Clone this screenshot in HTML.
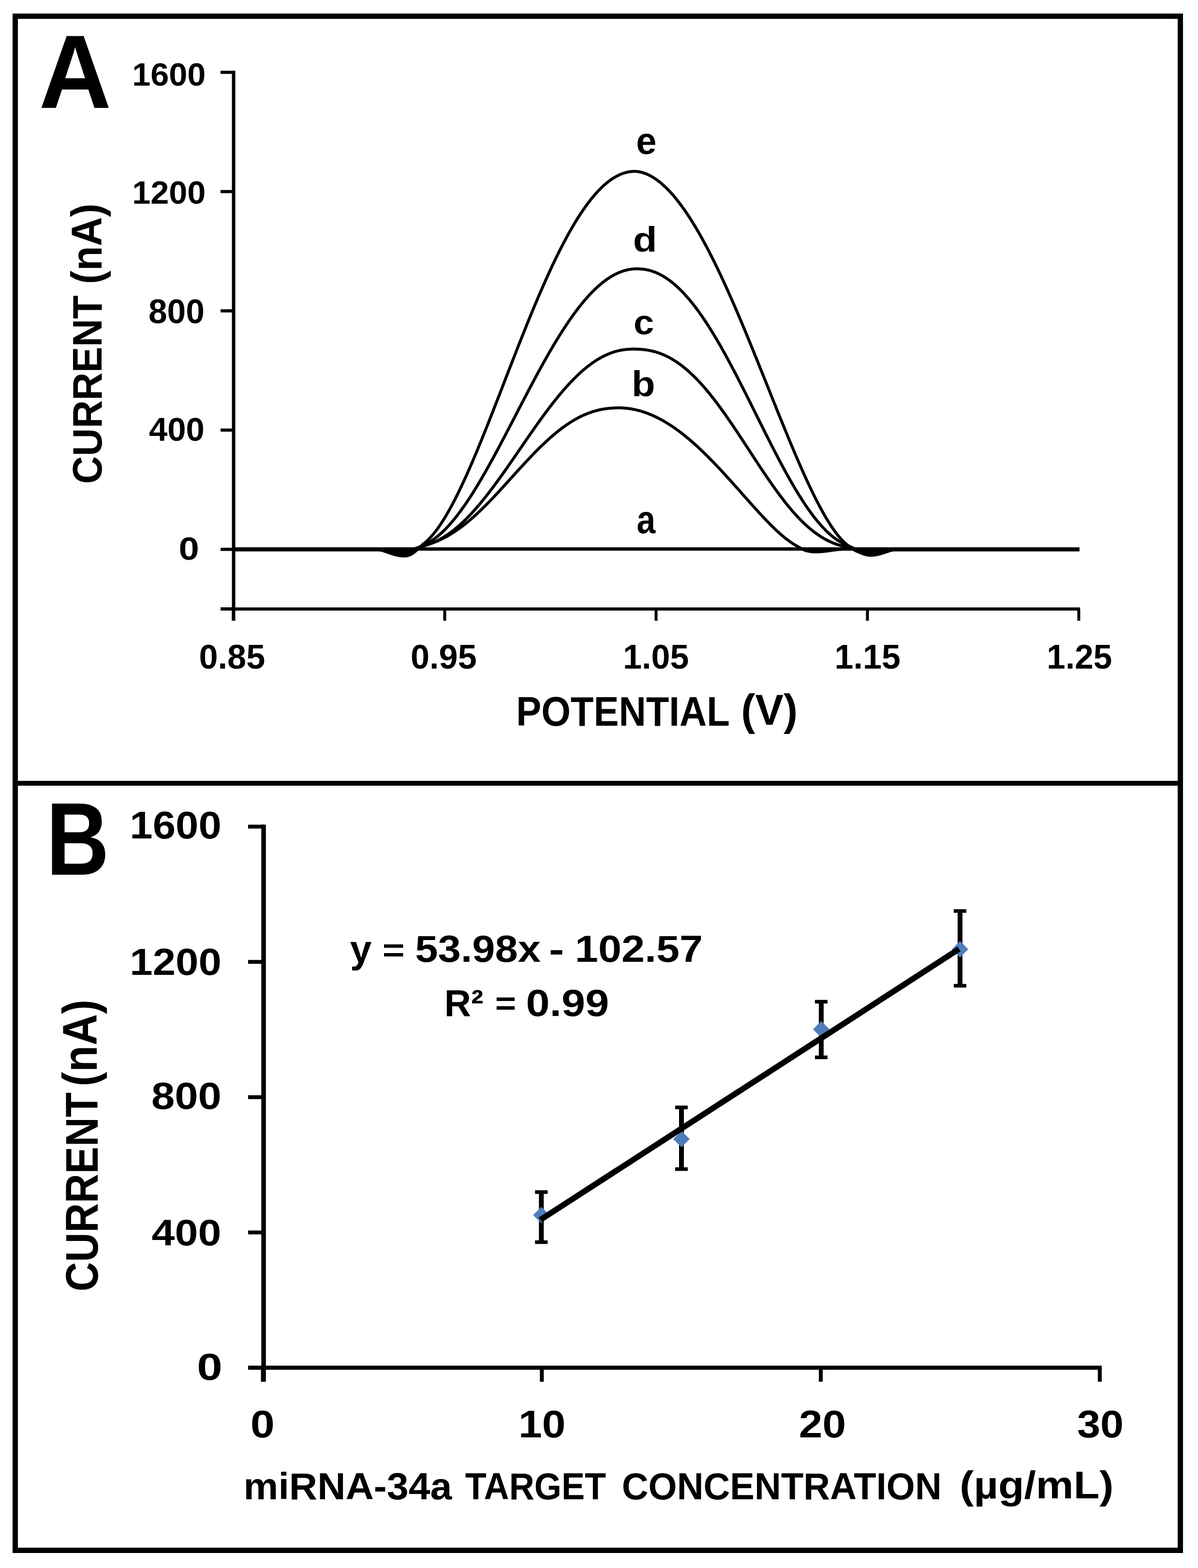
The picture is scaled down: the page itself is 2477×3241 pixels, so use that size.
<!DOCTYPE html>
<html><head><meta charset="utf-8"><title>Figure</title>
<style>html,body{margin:0;padding:0;background:#fff;}svg{display:block;}
text{font-family:'Liberation Sans', Arial, sans-serif;font-weight:bold;fill:#000;}</style></head>
<body><svg xmlns="http://www.w3.org/2000/svg" width="2477" height="3241" viewBox="0 0 2477 3241">
<rect width="2477" height="3241" fill="#fff"/>
<rect x="31.5" y="33.5" width="2409" height="3171" fill="none" stroke="#000" stroke-width="11"/>
<rect x="32" y="1614" width="2408" height="10" fill="#000"/>
<g stroke="#000" fill="none" stroke-linecap="butt">
<line x1="483.0" y1="146.0" x2="483.0" y2="1283" stroke-width="7"/>
<line x1="456" y1="149.5" x2="483.0" y2="149.5" stroke-width="6.5"/>
<line x1="456" y1="396.0" x2="483.0" y2="396.0" stroke-width="6.5"/>
<line x1="456" y1="642.5" x2="483.0" y2="642.5" stroke-width="6.5"/>
<line x1="456" y1="889.0" x2="483.0" y2="889.0" stroke-width="6.5"/>
<line x1="456" y1="1135.5" x2="483.0" y2="1135.5" stroke-width="6.5"/>
<line x1="456" y1="1258.8" x2="483.0" y2="1258.8" stroke-width="6.5"/>
<line x1="456" y1="1258.8" x2="2233" y2="1258.8" stroke-width="6.5"/>
<line x1="482.5" y1="1258.8" x2="482.5" y2="1283" stroke-width="6"/>
<line x1="919.5" y1="1258.8" x2="919.5" y2="1283" stroke-width="6"/>
<line x1="1356.5" y1="1258.8" x2="1356.5" y2="1283" stroke-width="6"/>
<line x1="1793.5" y1="1258.8" x2="1793.5" y2="1283" stroke-width="6"/>
<line x1="2230.5" y1="1258.8" x2="2230.5" y2="1283" stroke-width="6"/>
</g>
<g stroke="#000" stroke-width="6" fill="none" stroke-linejoin="round">
<line x1="483.0" y1="1134.8" x2="2232" y2="1134.8" stroke-width="7"/>
<line x1="483.0" y1="1136.8" x2="820" y2="1136.8" stroke-width="6"/>
<line x1="1815" y1="1136.8" x2="2232" y2="1136.8" stroke-width="6"/>
<path d="M778.0,1135.0 L780.0,1135.1 L782.0,1135.3 L784.0,1135.4 L786.0,1135.6 L788.0,1135.8 L790.0,1136.1 L792.0,1136.3 L794.0,1136.6 L796.0,1136.8 L798.0,1137.1 L800.0,1137.4 L802.0,1137.6 L804.0,1137.9 L806.0,1138.2 L808.0,1138.4 L810.0,1138.7 L812.0,1138.9 L814.0,1139.1 L816.0,1139.3 L818.0,1139.5 L820.0,1139.7 L822.0,1139.8 L824.0,1139.9 L826.0,1140.0 L828.0,1140.0 L830.0,1140.0 L832.0,1139.9 L834.0,1139.9 L836.0,1139.7 L838.0,1139.6 L840.0,1139.3 L842.0,1139.0 L844.0,1138.6 L846.0,1138.1 L848.0,1137.5 L850.0,1136.9 L852.0,1136.3 L854.0,1135.6 L856.0,1134.9 L858.0,1134.1 L860.0,1133.3 L862.0,1132.6 L864.0,1131.8 L866.0,1131.1 L868.0,1130.3 L870.0,1129.6 L872.0,1129.0 L874.0,1128.3 L876.0,1127.8 L878.0,1127.2 L880.0,1126.7 L882.0,1126.1 L884.0,1125.5 L886.0,1124.9 L888.0,1124.3 L890.0,1123.7 L892.0,1123.0 L894.0,1122.3 L896.0,1121.6 L898.0,1120.8 L900.0,1120.0 L902.0,1119.2 L904.0,1118.4 L906.0,1117.5 L908.0,1116.7 L910.0,1115.8 L912.0,1114.8 L914.0,1113.9 L916.0,1112.9 L918.0,1111.9 L920.0,1110.8 L922.0,1109.7 L924.0,1108.7 L926.0,1107.5 L928.0,1106.4 L930.0,1105.2 L932.0,1104.0 L934.0,1102.8 L936.0,1101.5 L938.0,1100.2 L940.0,1098.9 L942.0,1097.6 L944.0,1096.2 L946.0,1094.9 L948.0,1093.4 L950.0,1092.0 L952.0,1090.5 L954.0,1089.1 L956.0,1087.5 L958.0,1086.0 L960.0,1084.5 L962.0,1082.9 L964.0,1081.3 L966.0,1079.6 L968.0,1078.0 L970.0,1076.3 L972.0,1074.6 L974.0,1072.9 L976.0,1071.1 L978.0,1069.4 L980.0,1067.6 L982.0,1065.8 L984.0,1064.0 L986.0,1062.1 L988.0,1060.3 L990.0,1058.4 L992.0,1056.5 L994.0,1054.6 L996.0,1052.6 L998.0,1050.7 L1000.0,1048.7 L1002.0,1046.7 L1004.0,1044.7 L1006.0,1042.7 L1008.0,1040.7 L1010.0,1038.6 L1012.0,1036.6 L1014.0,1034.5 L1016.0,1032.4 L1018.0,1030.3 L1020.0,1028.2 L1022.0,1026.1 L1024.0,1024.0 L1026.0,1021.9 L1028.0,1019.7 L1030.0,1017.6 L1032.0,1015.4 L1034.0,1013.2 L1036.0,1011.1 L1038.0,1008.9 L1040.0,1006.7 L1042.0,1004.5 L1044.0,1002.3 L1046.0,1000.1 L1048.0,997.9 L1050.0,995.7 L1052.0,993.5 L1054.0,991.3 L1056.0,989.1 L1058.0,986.9 L1060.0,984.7 L1062.0,982.5 L1064.0,980.2 L1066.0,978.0 L1068.0,975.8 L1070.0,973.6 L1072.0,971.4 L1074.0,969.2 L1076.0,967.1 L1078.0,964.9 L1080.0,962.7 L1082.0,960.5 L1084.0,958.4 L1086.0,956.2 L1088.0,954.1 L1090.0,951.9 L1092.0,949.8 L1094.0,947.7 L1096.0,945.6 L1098.0,943.5 L1100.0,941.4 L1102.0,939.3 L1104.0,937.3 L1106.0,935.2 L1108.0,933.2 L1110.0,931.2 L1112.0,929.2 L1114.0,927.2 L1116.0,925.2 L1118.0,923.2 L1120.0,921.3 L1122.0,919.4 L1124.0,917.5 L1126.0,915.6 L1128.0,913.7 L1130.0,911.8 L1132.0,910.0 L1134.0,908.2 L1136.0,906.4 L1138.0,904.6 L1140.0,902.9 L1142.0,901.1 L1144.0,899.4 L1146.0,897.7 L1148.0,896.0 L1150.0,894.4 L1152.0,892.8 L1154.0,891.2 L1156.0,889.6 L1158.0,888.0 L1160.0,886.5 L1162.0,885.0 L1164.0,883.5 L1166.0,882.1 L1168.0,880.6 L1170.0,879.2 L1172.0,877.8 L1174.0,876.5 L1176.0,875.2 L1178.0,873.9 L1180.0,872.6 L1182.0,871.3 L1184.0,870.1 L1186.0,868.9 L1188.0,867.7 L1190.0,866.6 L1192.0,865.5 L1194.0,864.4 L1196.0,863.3 L1198.0,862.3 L1200.0,861.3 L1202.0,860.3 L1204.0,859.4 L1206.0,858.4 L1208.0,857.6 L1210.0,856.7 L1212.0,855.9 L1214.0,855.0 L1216.0,854.3 L1218.0,853.5 L1220.0,852.8 L1222.0,852.1 L1224.0,851.4 L1226.0,850.8 L1228.0,850.2 L1230.0,849.6 L1232.0,849.0 L1234.0,848.5 L1236.0,848.0 L1238.0,847.5 L1240.0,847.0 L1242.0,846.6 L1244.0,846.2 L1246.0,845.8 L1248.0,845.5 L1250.0,845.2 L1252.0,844.9 L1254.0,844.6 L1256.0,844.4 L1258.0,844.1 L1260.0,843.9 L1262.0,843.8 L1264.0,843.6 L1266.0,843.5 L1268.0,843.4 L1270.0,843.3 L1272.0,843.2 L1274.0,843.1 L1276.0,843.1 L1278.0,843.1 L1280.0,843.1 L1282.0,843.1 L1284.0,843.1 L1286.0,843.2 L1288.0,843.3 L1290.0,843.4 L1292.0,843.6 L1294.0,843.8 L1296.0,844.0 L1298.0,844.2 L1300.0,844.4 L1302.0,844.7 L1304.0,845.0 L1306.0,845.3 L1308.0,845.7 L1310.0,846.1 L1312.0,846.5 L1314.0,846.9 L1316.0,847.4 L1318.0,847.9 L1320.0,848.4 L1322.0,848.9 L1324.0,849.4 L1326.0,850.0 L1328.0,850.6 L1330.0,851.3 L1332.0,851.9 L1334.0,852.6 L1336.0,853.3 L1338.0,854.1 L1340.0,854.8 L1342.0,855.6 L1344.0,856.4 L1346.0,857.2 L1348.0,858.1 L1350.0,859.0 L1352.0,859.9 L1354.0,860.8 L1356.0,861.7 L1358.0,862.7 L1360.0,863.7 L1362.0,864.7 L1364.0,865.8 L1366.0,866.8 L1368.0,867.9 L1370.0,869.0 L1372.0,870.2 L1374.0,871.3 L1376.0,872.5 L1378.0,873.7 L1380.0,875.0 L1382.0,876.2 L1384.0,877.5 L1386.0,878.8 L1388.0,880.1 L1390.0,881.4 L1392.0,882.8 L1394.0,884.1 L1396.0,885.5 L1398.0,887.0 L1400.0,888.4 L1402.0,889.9 L1404.0,891.3 L1406.0,892.8 L1408.0,894.4 L1410.0,895.9 L1412.0,897.5 L1414.0,899.0 L1416.0,900.6 L1418.0,902.3 L1420.0,903.9 L1422.0,905.6 L1424.0,907.2 L1426.0,908.9 L1428.0,910.6 L1430.0,912.4 L1432.0,914.1 L1434.0,915.9 L1436.0,917.7 L1438.0,919.5 L1440.0,921.3 L1442.0,923.1 L1444.0,924.9 L1446.0,926.8 L1448.0,928.7 L1450.0,930.6 L1452.0,932.5 L1454.0,934.4 L1456.0,936.3 L1458.0,938.3 L1460.0,940.3 L1462.0,942.2 L1464.0,944.2 L1466.0,946.2 L1468.0,948.3 L1470.0,950.3 L1472.0,952.3 L1474.0,954.4 L1476.0,956.5 L1478.0,958.6 L1480.0,960.6 L1482.0,962.7 L1484.0,964.9 L1486.0,967.0 L1488.0,969.1 L1490.0,971.3 L1492.0,973.4 L1494.0,975.6 L1496.0,977.7 L1498.0,979.9 L1500.0,982.1 L1502.0,984.3 L1504.0,986.5 L1506.0,988.7 L1508.0,990.9 L1510.0,993.1 L1512.0,995.4 L1514.0,997.6 L1516.0,999.8 L1518.0,1002.1 L1520.0,1004.3 L1522.0,1006.5 L1524.0,1008.8 L1526.0,1011.0 L1528.0,1013.3 L1530.0,1015.5 L1532.0,1017.8 L1534.0,1020.1 L1536.0,1022.3 L1538.0,1024.6 L1540.0,1026.8 L1542.0,1029.1 L1544.0,1031.3 L1546.0,1033.6 L1548.0,1035.8 L1550.0,1038.1 L1552.0,1040.3 L1554.0,1042.5 L1556.0,1044.8 L1558.0,1047.0 L1560.0,1049.2 L1562.0,1051.4 L1564.0,1053.6 L1566.0,1055.8 L1568.0,1058.0 L1570.0,1060.2 L1572.0,1062.3 L1574.0,1064.5 L1576.0,1066.6 L1578.0,1068.8 L1580.0,1070.9 L1582.0,1073.0 L1584.0,1075.1 L1586.0,1077.2 L1588.0,1079.2 L1590.0,1081.3 L1592.0,1083.3 L1594.0,1085.3 L1596.0,1087.3 L1598.0,1089.3 L1600.0,1091.2 L1602.0,1093.2 L1604.0,1095.1 L1606.0,1096.9 L1608.0,1098.8 L1610.0,1100.6 L1612.0,1102.4 L1614.0,1104.2 L1616.0,1105.9 L1618.0,1107.7 L1620.0,1109.3 L1622.0,1111.0 L1624.0,1112.6 L1626.0,1114.2 L1628.0,1115.7 L1630.0,1117.2 L1632.0,1118.7 L1634.0,1120.1 L1636.0,1121.5 L1638.0,1122.8 L1640.0,1124.1 L1642.0,1125.3 L1644.0,1126.5 L1646.0,1127.6 L1648.0,1128.8 L1650.0,1129.9 L1652.0,1131.1 L1654.0,1132.2 L1656.0,1133.3 L1658.0,1134.4 L1660.0,1135.4 L1662.0,1136.4 L1664.0,1137.3 L1666.0,1138.0 L1668.0,1138.5 L1670.0,1138.9 L1672.0,1139.4 L1674.0,1139.7 L1676.0,1140.1 L1678.0,1140.4 L1680.0,1140.6 L1682.0,1140.7 L1684.0,1140.8 L1686.0,1140.8 L1688.0,1140.8 L1690.0,1140.7 L1692.0,1140.6 L1694.0,1140.5 L1696.0,1140.4 L1698.0,1140.3 L1700.0,1140.1 L1702.0,1139.9 L1704.0,1139.7 L1706.0,1139.5 L1708.0,1139.2 L1710.0,1139.0 L1712.0,1138.7 L1714.0,1138.4 L1716.0,1138.2 L1718.0,1137.9 L1720.0,1137.6 L1722.0,1137.3 L1724.0,1137.0 L1726.0,1136.8 L1728.0,1136.5 L1730.0,1136.3 L1732.0,1136.0 L1734.0,1135.8 L1736.0,1135.6 L1738.0,1135.4 L1740.0,1135.3 L1742.0,1135.1 L1744.0,1135.0"/>
<path d="M778.0,1135.0 L780.0,1135.2 L782.0,1135.3 L784.0,1135.5 L786.0,1135.7 L788.0,1135.9 L790.0,1136.2 L792.0,1136.4 L794.0,1136.7 L796.0,1137.0 L798.0,1137.3 L800.0,1137.6 L802.0,1137.9 L804.0,1138.2 L806.0,1138.5 L808.0,1138.8 L810.0,1139.1 L812.0,1139.4 L814.0,1139.7 L816.0,1139.9 L818.0,1140.2 L820.0,1140.4 L822.0,1140.6 L824.0,1140.7 L826.0,1140.8 L828.0,1140.9 L830.0,1141.0 L832.0,1141.0 L834.0,1141.0 L836.0,1140.9 L838.0,1140.7 L840.0,1140.5 L842.0,1140.2 L844.0,1139.8 L846.0,1139.3 L848.0,1138.8 L850.0,1138.2 L852.0,1137.5 L854.0,1136.8 L856.0,1136.0 L858.0,1135.3 L860.0,1134.5 L862.0,1133.6 L864.0,1132.8 L866.0,1132.0 L868.0,1131.3 L870.0,1130.5 L872.0,1129.8 L874.0,1129.1 L876.0,1128.5 L878.0,1127.9 L880.0,1127.3 L882.0,1126.6 L884.0,1126.0 L886.0,1125.3 L888.0,1124.6 L890.0,1123.8 L892.0,1123.0 L894.0,1122.2 L896.0,1121.4 L898.0,1120.5 L900.0,1119.6 L902.0,1118.6 L904.0,1117.7 L906.0,1116.7 L908.0,1115.6 L910.0,1114.5 L912.0,1113.4 L914.0,1112.3 L916.0,1111.1 L918.0,1109.9 L920.0,1108.6 L922.0,1107.3 L924.0,1106.0 L926.0,1104.6 L928.0,1103.2 L930.0,1101.8 L932.0,1100.4 L934.0,1098.9 L936.0,1097.3 L938.0,1095.8 L940.0,1094.2 L942.0,1092.6 L944.0,1090.9 L946.0,1089.2 L948.0,1087.5 L950.0,1085.7 L952.0,1083.9 L954.0,1082.1 L956.0,1080.2 L958.0,1078.4 L960.0,1076.4 L962.0,1074.5 L964.0,1072.5 L966.0,1070.5 L968.0,1068.5 L970.0,1066.4 L972.0,1064.3 L974.0,1062.2 L976.0,1060.0 L978.0,1057.8 L980.0,1055.6 L982.0,1053.4 L984.0,1051.1 L986.0,1048.8 L988.0,1046.5 L990.0,1044.1 L992.0,1041.7 L994.0,1039.4 L996.0,1036.9 L998.0,1034.5 L1000.0,1032.0 L1002.0,1029.5 L1004.0,1027.0 L1006.0,1024.5 L1008.0,1021.9 L1010.0,1019.4 L1012.0,1016.8 L1014.0,1014.2 L1016.0,1011.5 L1018.0,1008.9 L1020.0,1006.2 L1022.0,1003.5 L1024.0,1000.8 L1026.0,998.1 L1028.0,995.4 L1030.0,992.6 L1032.0,989.9 L1034.0,987.1 L1036.0,984.3 L1038.0,981.5 L1040.0,978.7 L1042.0,975.9 L1044.0,973.1 L1046.0,970.2 L1048.0,967.4 L1050.0,964.5 L1052.0,961.6 L1054.0,958.8 L1056.0,955.9 L1058.0,953.0 L1060.0,950.1 L1062.0,947.2 L1064.0,944.3 L1066.0,941.4 L1068.0,938.5 L1070.0,935.6 L1072.0,932.7 L1074.0,929.8 L1076.0,926.9 L1078.0,924.0 L1080.0,921.0 L1082.0,918.1 L1084.0,915.2 L1086.0,912.3 L1088.0,909.4 L1090.0,906.5 L1092.0,903.6 L1094.0,900.8 L1096.0,897.9 L1098.0,895.0 L1100.0,892.1 L1102.0,889.3 L1104.0,886.4 L1106.0,883.6 L1108.0,880.8 L1110.0,877.9 L1112.0,875.1 L1114.0,872.3 L1116.0,869.6 L1118.0,866.8 L1120.0,864.0 L1122.0,861.3 L1124.0,858.5 L1126.0,855.8 L1128.0,853.1 L1130.0,850.4 L1132.0,847.8 L1134.0,845.1 L1136.0,842.5 L1138.0,839.9 L1140.0,837.3 L1142.0,834.7 L1144.0,832.1 L1146.0,829.6 L1148.0,827.1 L1150.0,824.6 L1152.0,822.1 L1154.0,819.7 L1156.0,817.2 L1158.0,814.8 L1160.0,812.4 L1162.0,810.1 L1164.0,807.7 L1166.0,805.4 L1168.0,803.1 L1170.0,800.9 L1172.0,798.6 L1174.0,796.4 L1176.0,794.3 L1178.0,792.1 L1180.0,790.0 L1182.0,787.9 L1184.0,785.8 L1186.0,783.8 L1188.0,781.7 L1190.0,779.8 L1192.0,777.8 L1194.0,775.9 L1196.0,774.0 L1198.0,772.1 L1200.0,770.3 L1202.0,768.5 L1204.0,766.7 L1206.0,765.0 L1208.0,763.3 L1210.0,761.6 L1212.0,760.0 L1214.0,758.4 L1216.0,756.8 L1218.0,755.3 L1220.0,753.8 L1222.0,752.3 L1224.0,750.8 L1226.0,749.4 L1228.0,748.1 L1230.0,746.7 L1232.0,745.4 L1234.0,744.1 L1236.0,742.9 L1238.0,741.7 L1240.0,740.6 L1242.0,739.4 L1244.0,738.3 L1246.0,737.3 L1248.0,736.2 L1250.0,735.3 L1252.0,734.3 L1254.0,733.4 L1256.0,732.5 L1258.0,731.7 L1260.0,730.8 L1262.0,730.1 L1264.0,729.3 L1266.0,728.6 L1268.0,728.0 L1270.0,727.3 L1272.0,726.7 L1274.0,726.2 L1276.0,725.6 L1278.0,725.1 L1280.0,724.7 L1282.0,724.2 L1284.0,723.8 L1286.0,723.5 L1288.0,723.2 L1290.0,722.9 L1292.0,722.6 L1294.0,722.4 L1296.0,722.2 L1298.0,722.0 L1300.0,721.9 L1302.0,721.8 L1304.0,721.7 L1306.0,721.6 L1308.0,721.6 L1310.0,721.6 L1312.0,721.6 L1314.0,721.6 L1316.0,721.7 L1318.0,721.7 L1320.0,721.8 L1322.0,721.9 L1324.0,722.0 L1326.0,722.2 L1328.0,722.3 L1330.0,722.5 L1332.0,722.8 L1334.0,723.0 L1336.0,723.3 L1338.0,723.6 L1340.0,723.9 L1342.0,724.3 L1344.0,724.6 L1346.0,725.1 L1348.0,725.5 L1350.0,726.0 L1352.0,726.5 L1354.0,727.0 L1356.0,727.6 L1358.0,728.2 L1360.0,728.9 L1362.0,729.5 L1364.0,730.2 L1366.0,731.0 L1368.0,731.8 L1370.0,732.6 L1372.0,733.4 L1374.0,734.3 L1376.0,735.2 L1378.0,736.1 L1380.0,737.1 L1382.0,738.1 L1384.0,739.2 L1386.0,740.3 L1388.0,741.4 L1390.0,742.6 L1392.0,743.8 L1394.0,745.0 L1396.0,746.3 L1398.0,747.6 L1400.0,748.9 L1402.0,750.3 L1404.0,751.7 L1406.0,753.1 L1408.0,754.6 L1410.0,756.1 L1412.0,757.7 L1414.0,759.3 L1416.0,760.9 L1418.0,762.6 L1420.0,764.3 L1422.0,766.0 L1424.0,767.8 L1426.0,769.6 L1428.0,771.4 L1430.0,773.3 L1432.0,775.2 L1434.0,777.1 L1436.0,779.1 L1438.0,781.1 L1440.0,783.1 L1442.0,785.2 L1444.0,787.3 L1446.0,789.4 L1448.0,791.6 L1450.0,793.8 L1452.0,796.0 L1454.0,798.3 L1456.0,800.6 L1458.0,802.9 L1460.0,805.2 L1462.0,807.6 L1464.0,810.0 L1466.0,812.4 L1468.0,814.9 L1470.0,817.4 L1472.0,819.9 L1474.0,822.4 L1476.0,825.0 L1478.0,827.6 L1480.0,830.2 L1482.0,832.8 L1484.0,835.5 L1486.0,838.2 L1488.0,840.9 L1490.0,843.6 L1492.0,846.4 L1494.0,849.2 L1496.0,851.9 L1498.0,854.8 L1500.0,857.6 L1502.0,860.4 L1504.0,863.3 L1506.0,866.2 L1508.0,869.1 L1510.0,872.0 L1512.0,874.9 L1514.0,877.8 L1516.0,880.8 L1518.0,883.8 L1520.0,886.7 L1522.0,889.7 L1524.0,892.7 L1526.0,895.7 L1528.0,898.8 L1530.0,901.8 L1532.0,904.8 L1534.0,907.9 L1536.0,910.9 L1538.0,913.9 L1540.0,917.0 L1542.0,920.1 L1544.0,923.1 L1546.0,926.2 L1548.0,929.2 L1550.0,932.3 L1552.0,935.4 L1554.0,938.4 L1556.0,941.5 L1558.0,944.6 L1560.0,947.6 L1562.0,950.7 L1564.0,953.7 L1566.0,956.7 L1568.0,959.8 L1570.0,962.8 L1572.0,965.8 L1574.0,968.8 L1576.0,971.8 L1578.0,974.8 L1580.0,977.8 L1582.0,980.7 L1584.0,983.7 L1586.0,986.6 L1588.0,989.5 L1590.0,992.5 L1592.0,995.3 L1594.0,998.2 L1596.0,1001.1 L1598.0,1003.9 L1600.0,1006.7 L1602.0,1009.5 L1604.0,1012.3 L1606.0,1015.1 L1608.0,1017.8 L1610.0,1020.5 L1612.0,1023.2 L1614.0,1025.9 L1616.0,1028.5 L1618.0,1031.1 L1620.0,1033.7 L1622.0,1036.3 L1624.0,1038.8 L1626.0,1041.3 L1628.0,1043.8 L1630.0,1046.3 L1632.0,1048.7 L1634.0,1051.1 L1636.0,1053.4 L1638.0,1055.8 L1640.0,1058.1 L1642.0,1060.4 L1644.0,1062.6 L1646.0,1064.8 L1648.0,1067.0 L1650.0,1069.1 L1652.0,1071.2 L1654.0,1073.3 L1656.0,1075.3 L1658.0,1077.3 L1660.0,1079.3 L1662.0,1081.2 L1664.0,1083.1 L1666.0,1085.0 L1668.0,1086.8 L1670.0,1088.6 L1672.0,1090.3 L1674.0,1092.0 L1676.0,1093.7 L1678.0,1095.4 L1680.0,1097.0 L1682.0,1098.5 L1684.0,1100.1 L1686.0,1101.5 L1688.0,1103.0 L1690.0,1104.4 L1692.0,1105.8 L1694.0,1107.1 L1696.0,1108.4 L1698.0,1109.7 L1700.0,1110.9 L1702.0,1112.1 L1704.0,1113.3 L1706.0,1114.4 L1708.0,1115.5 L1710.0,1116.5 L1712.0,1117.5 L1714.0,1118.5 L1716.0,1119.4 L1718.0,1120.3 L1720.0,1121.2 L1722.0,1122.1 L1724.0,1122.9 L1726.0,1123.6 L1728.0,1124.4 L1730.0,1125.1 L1732.0,1125.8 L1734.0,1126.4 L1736.0,1127.0 L1738.0,1127.6 L1740.0,1128.1 L1742.0,1128.7 L1744.0,1129.2 L1746.0,1129.6 L1748.0,1130.1 L1750.0,1130.5 L1752.0,1130.9 L1754.0,1131.3 L1756.0,1131.7 L1758.0,1132.1 L1760.0,1132.6 L1762.0,1133.1 L1764.0,1133.6 L1766.0,1134.2 L1768.0,1134.7 L1770.0,1135.2 L1772.0,1135.8 L1774.0,1136.3 L1776.0,1136.9 L1778.0,1137.4 L1780.0,1137.9 L1782.0,1138.4 L1784.0,1138.8 L1786.0,1139.2 L1788.0,1139.6 L1790.0,1139.9 L1792.0,1140.2 L1794.0,1140.4 L1796.0,1140.6 L1798.0,1140.7 L1800.0,1140.7 L1802.0,1140.7 L1804.0,1140.7 L1806.0,1140.6 L1808.0,1140.5 L1810.0,1140.4 L1812.0,1140.3 L1814.0,1140.1 L1816.0,1139.9 L1818.0,1139.6 L1820.0,1139.4 L1822.0,1139.1 L1824.0,1138.8 L1826.0,1138.6 L1828.0,1138.3 L1830.0,1138.0 L1832.0,1137.6 L1834.0,1137.3 L1836.0,1137.0 L1838.0,1136.8 L1840.0,1136.5 L1842.0,1136.2 L1844.0,1136.0 L1846.0,1135.7 L1848.0,1135.5 L1850.0,1135.3 L1852.0,1135.2 L1854.0,1135.0"/>
<path d="M776.0,1135.0 L778.0,1135.2 L780.0,1135.4 L782.0,1135.6 L784.0,1135.9 L786.0,1136.3 L788.0,1136.6 L790.0,1137.0 L792.0,1137.4 L794.0,1137.9 L796.0,1138.3 L798.0,1138.8 L800.0,1139.3 L802.0,1139.8 L804.0,1140.3 L806.0,1140.8 L808.0,1141.3 L810.0,1141.8 L812.0,1142.2 L814.0,1142.7 L816.0,1143.1 L818.0,1143.5 L820.0,1143.8 L822.0,1144.2 L824.0,1144.5 L826.0,1144.7 L828.0,1144.9 L830.0,1145.1 L832.0,1145.2 L834.0,1145.3 L836.0,1145.3 L838.0,1145.2 L840.0,1145.0 L842.0,1144.6 L844.0,1144.1 L846.0,1143.5 L848.0,1142.7 L850.0,1141.8 L852.0,1140.8 L854.0,1139.7 L856.0,1138.6 L858.0,1137.4 L860.0,1136.2 L862.0,1134.9 L864.0,1133.6 L866.0,1132.4 L868.0,1131.1 L870.0,1129.9 L872.0,1128.8 L874.0,1127.7 L876.0,1126.7 L878.0,1125.7 L880.0,1124.7 L882.0,1123.7 L884.0,1122.6 L886.0,1121.5 L888.0,1120.3 L890.0,1119.1 L892.0,1117.8 L894.0,1116.5 L896.0,1115.1 L898.0,1113.7 L900.0,1112.2 L902.0,1110.7 L904.0,1109.1 L906.0,1107.4 L908.0,1105.8 L910.0,1104.0 L912.0,1102.2 L914.0,1100.4 L916.0,1098.5 L918.0,1096.6 L920.0,1094.6 L922.0,1092.6 L924.0,1090.5 L926.0,1088.3 L928.0,1086.2 L930.0,1084.0 L932.0,1081.7 L934.0,1079.4 L936.0,1077.0 L938.0,1074.6 L940.0,1072.2 L942.0,1069.7 L944.0,1067.2 L946.0,1064.6 L948.0,1062.0 L950.0,1059.3 L952.0,1056.6 L954.0,1053.9 L956.0,1051.1 L958.0,1048.3 L960.0,1045.5 L962.0,1042.6 L964.0,1039.7 L966.0,1036.7 L968.0,1033.7 L970.0,1030.7 L972.0,1027.6 L974.0,1024.6 L976.0,1021.4 L978.0,1018.3 L980.0,1015.1 L982.0,1011.9 L984.0,1008.6 L986.0,1005.3 L988.0,1002.0 L990.0,998.7 L992.0,995.3 L994.0,992.0 L996.0,988.5 L998.0,985.1 L1000.0,981.6 L1002.0,978.2 L1004.0,974.6 L1006.0,971.1 L1008.0,967.6 L1010.0,964.0 L1012.0,960.4 L1014.0,956.8 L1016.0,953.2 L1018.0,949.5 L1020.0,945.9 L1022.0,942.2 L1024.0,938.5 L1026.0,934.8 L1028.0,931.0 L1030.0,927.3 L1032.0,923.6 L1034.0,919.8 L1036.0,916.0 L1038.0,912.2 L1040.0,908.4 L1042.0,904.6 L1044.0,900.8 L1046.0,897.0 L1048.0,893.2 L1050.0,889.4 L1052.0,885.5 L1054.0,881.7 L1056.0,877.8 L1058.0,874.0 L1060.0,870.1 L1062.0,866.3 L1064.0,862.4 L1066.0,858.6 L1068.0,854.7 L1070.0,850.8 L1072.0,847.0 L1074.0,843.1 L1076.0,839.3 L1078.0,835.4 L1080.0,831.6 L1082.0,827.8 L1084.0,823.9 L1086.0,820.1 L1088.0,816.3 L1090.0,812.5 L1092.0,808.7 L1094.0,804.9 L1096.0,801.1 L1098.0,797.3 L1100.0,793.6 L1102.0,789.8 L1104.0,786.1 L1106.0,782.3 L1108.0,778.6 L1110.0,774.9 L1112.0,771.2 L1114.0,767.5 L1116.0,763.9 L1118.0,760.2 L1120.0,756.6 L1122.0,753.0 L1124.0,749.4 L1126.0,745.8 L1128.0,742.3 L1130.0,738.8 L1132.0,735.3 L1134.0,731.8 L1136.0,728.3 L1138.0,724.8 L1140.0,721.4 L1142.0,718.0 L1144.0,714.6 L1146.0,711.3 L1148.0,707.9 L1150.0,704.6 L1152.0,701.4 L1154.0,698.1 L1156.0,694.9 L1158.0,691.7 L1160.0,688.5 L1162.0,685.3 L1164.0,682.2 L1166.0,679.1 L1168.0,676.1 L1170.0,673.1 L1172.0,670.1 L1174.0,667.1 L1176.0,664.2 L1178.0,661.2 L1180.0,658.4 L1182.0,655.5 L1184.0,652.7 L1186.0,650.0 L1188.0,647.2 L1190.0,644.5 L1192.0,641.8 L1194.0,639.2 L1196.0,636.6 L1198.0,634.0 L1200.0,631.5 L1202.0,629.0 L1204.0,626.6 L1206.0,624.1 L1208.0,621.7 L1210.0,619.4 L1212.0,617.1 L1214.0,614.8 L1216.0,612.6 L1218.0,610.4 L1220.0,608.3 L1222.0,606.2 L1224.0,604.1 L1226.0,602.1 L1228.0,600.1 L1230.0,598.1 L1232.0,596.2 L1234.0,594.3 L1236.0,592.5 L1238.0,590.7 L1240.0,589.0 L1242.0,587.3 L1244.0,585.6 L1246.0,584.0 L1248.0,582.5 L1250.0,580.9 L1252.0,579.5 L1254.0,578.0 L1256.0,576.6 L1258.0,575.3 L1260.0,574.0 L1262.0,572.7 L1264.0,571.5 L1266.0,570.3 L1268.0,569.2 L1270.0,568.1 L1272.0,567.0 L1274.0,566.1 L1276.0,565.1 L1278.0,564.2 L1280.0,563.3 L1282.0,562.5 L1284.0,561.8 L1286.0,561.0 L1288.0,560.4 L1290.0,559.7 L1292.0,559.1 L1294.0,558.6 L1296.0,558.1 L1298.0,557.7 L1300.0,557.2 L1302.0,556.9 L1304.0,556.6 L1306.0,556.3 L1308.0,556.1 L1310.0,555.9 L1312.0,555.8 L1314.0,555.7 L1316.0,555.6 L1318.0,555.6 L1320.0,555.7 L1322.0,555.7 L1324.0,555.9 L1326.0,556.0 L1328.0,556.2 L1330.0,556.4 L1332.0,556.7 L1334.0,557.0 L1336.0,557.4 L1338.0,557.8 L1340.0,558.2 L1342.0,558.7 L1344.0,559.2 L1346.0,559.8 L1348.0,560.4 L1350.0,561.1 L1352.0,561.8 L1354.0,562.5 L1356.0,563.3 L1358.0,564.2 L1360.0,565.1 L1362.0,566.0 L1364.0,567.0 L1366.0,568.1 L1368.0,569.1 L1370.0,570.3 L1372.0,571.4 L1374.0,572.6 L1376.0,573.9 L1378.0,575.2 L1380.0,576.6 L1382.0,578.0 L1384.0,579.4 L1386.0,580.9 L1388.0,582.5 L1390.0,584.0 L1392.0,585.7 L1394.0,587.3 L1396.0,589.1 L1398.0,590.8 L1400.0,592.6 L1402.0,594.5 L1404.0,596.4 L1406.0,598.3 L1408.0,600.3 L1410.0,602.4 L1412.0,604.4 L1414.0,606.5 L1416.0,608.7 L1418.0,610.9 L1420.0,613.2 L1422.0,615.4 L1424.0,617.8 L1426.0,620.2 L1428.0,622.6 L1430.0,625.0 L1432.0,627.5 L1434.0,630.1 L1436.0,632.6 L1438.0,635.2 L1440.0,637.9 L1442.0,640.6 L1444.0,643.3 L1446.0,646.1 L1448.0,648.9 L1450.0,651.8 L1452.0,654.6 L1454.0,657.6 L1456.0,660.5 L1458.0,663.5 L1460.0,666.5 L1462.0,669.6 L1464.0,672.7 L1466.0,675.8 L1468.0,679.0 L1470.0,682.2 L1472.0,685.4 L1474.0,688.7 L1476.0,692.0 L1478.0,695.3 L1480.0,698.6 L1482.0,702.0 L1484.0,705.4 L1486.0,708.8 L1488.0,712.3 L1490.0,715.8 L1492.0,719.3 L1494.0,722.9 L1496.0,726.4 L1498.0,730.0 L1500.0,733.6 L1502.0,737.3 L1504.0,740.9 L1506.0,744.6 L1508.0,748.3 L1510.0,752.1 L1512.0,755.8 L1514.0,759.6 L1516.0,763.4 L1518.0,767.2 L1520.0,771.0 L1522.0,774.8 L1524.0,778.7 L1526.0,782.6 L1528.0,786.5 L1530.0,790.4 L1532.0,794.3 L1534.0,798.2 L1536.0,802.1 L1538.0,806.1 L1540.0,810.0 L1542.0,814.0 L1544.0,818.0 L1546.0,822.0 L1548.0,825.9 L1550.0,829.9 L1552.0,833.9 L1554.0,838.0 L1556.0,842.0 L1558.0,846.0 L1560.0,850.0 L1562.0,854.0 L1564.0,858.0 L1566.0,862.1 L1568.0,866.1 L1570.0,870.1 L1572.0,874.1 L1574.0,878.1 L1576.0,882.1 L1578.0,886.1 L1580.0,890.1 L1582.0,894.1 L1584.0,898.1 L1586.0,902.1 L1588.0,906.0 L1590.0,910.0 L1592.0,913.9 L1594.0,917.9 L1596.0,921.8 L1598.0,925.7 L1600.0,929.6 L1602.0,933.5 L1604.0,937.3 L1606.0,941.2 L1608.0,945.0 L1610.0,948.8 L1612.0,952.6 L1614.0,956.4 L1616.0,960.1 L1618.0,963.9 L1620.0,967.6 L1622.0,971.2 L1624.0,974.9 L1626.0,978.5 L1628.0,982.1 L1630.0,985.7 L1632.0,989.3 L1634.0,992.8 L1636.0,996.3 L1638.0,999.8 L1640.0,1003.2 L1642.0,1006.6 L1644.0,1010.0 L1646.0,1013.3 L1648.0,1016.6 L1650.0,1019.9 L1652.0,1023.2 L1654.0,1026.4 L1656.0,1029.5 L1658.0,1032.7 L1660.0,1035.8 L1662.0,1038.8 L1664.0,1041.8 L1666.0,1044.8 L1668.0,1047.7 L1670.0,1050.6 L1672.0,1053.5 L1674.0,1056.3 L1676.0,1059.0 L1678.0,1061.8 L1680.0,1064.4 L1682.0,1067.1 L1684.0,1069.6 L1686.0,1072.2 L1688.0,1074.7 L1690.0,1077.1 L1692.0,1079.5 L1694.0,1081.9 L1696.0,1084.2 L1698.0,1086.4 L1700.0,1088.6 L1702.0,1090.7 L1704.0,1092.8 L1706.0,1094.9 L1708.0,1096.9 L1710.0,1098.8 L1712.0,1100.7 L1714.0,1102.6 L1716.0,1104.4 L1718.0,1106.1 L1720.0,1107.8 L1722.0,1109.4 L1724.0,1111.0 L1726.0,1112.5 L1728.0,1114.0 L1730.0,1115.4 L1732.0,1116.7 L1734.0,1118.1 L1736.0,1119.3 L1738.0,1120.5 L1740.0,1121.7 L1742.0,1122.8 L1744.0,1123.8 L1746.0,1124.8 L1748.0,1125.7 L1750.0,1126.6 L1752.0,1127.5 L1754.0,1128.3 L1756.0,1129.1 L1758.0,1130.0 L1760.0,1130.9 L1762.0,1131.9 L1764.0,1132.8 L1766.0,1133.8 L1768.0,1134.8 L1770.0,1135.7 L1772.0,1136.7 L1774.0,1137.6 L1776.0,1138.5 L1778.0,1139.4 L1780.0,1140.2 L1782.0,1140.9 L1784.0,1141.6 L1786.0,1142.3 L1788.0,1142.8 L1790.0,1143.3 L1792.0,1143.6 L1794.0,1143.9 L1796.0,1144.1 L1798.0,1144.3 L1800.0,1144.3 L1802.0,1144.3 L1804.0,1144.2 L1806.0,1144.1 L1808.0,1143.9 L1810.0,1143.7 L1812.0,1143.4 L1814.0,1143.2 L1816.0,1142.8 L1818.0,1142.5 L1820.0,1142.1 L1822.0,1141.6 L1824.0,1141.2 L1826.0,1140.7 L1828.0,1140.3 L1830.0,1139.8 L1832.0,1139.3 L1834.0,1138.8 L1836.0,1138.4 L1838.0,1137.9 L1840.0,1137.5 L1842.0,1137.0 L1844.0,1136.6 L1846.0,1136.3 L1848.0,1135.9 L1850.0,1135.7 L1852.0,1135.4 L1854.0,1135.2 L1856.0,1135.0"/>
<path d="M776.0,1135.1 L778.0,1135.3 L780.0,1135.6 L782.0,1136.0 L784.0,1136.4 L786.0,1136.8 L788.0,1137.3 L790.0,1137.8 L792.0,1138.4 L794.0,1139.0 L796.0,1139.7 L798.0,1140.3 L800.0,1141.0 L802.0,1141.7 L804.0,1142.4 L806.0,1143.1 L808.0,1143.8 L810.0,1144.4 L812.0,1145.1 L814.0,1145.7 L816.0,1146.3 L818.0,1146.8 L820.0,1147.3 L822.0,1147.7 L824.0,1148.1 L826.0,1148.5 L828.0,1148.8 L830.0,1149.0 L832.0,1149.2 L834.0,1149.3 L836.0,1149.3 L838.0,1149.2 L840.0,1149.0 L842.0,1148.6 L844.0,1148.0 L846.0,1147.4 L848.0,1146.6 L850.0,1145.6 L852.0,1144.5 L854.0,1143.2 L856.0,1141.7 L858.0,1140.1 L860.0,1138.4 L862.0,1136.6 L864.0,1134.7 L866.0,1132.9 L868.0,1131.0 L870.0,1129.2 L872.0,1127.3 L874.0,1125.6 L876.0,1123.9 L878.0,1122.2 L880.0,1120.5 L882.0,1118.8 L884.0,1116.9 L886.0,1115.0 L888.0,1113.0 L890.0,1110.8 L892.0,1108.6 L894.0,1106.3 L896.0,1104.0 L898.0,1101.5 L900.0,1099.0 L902.0,1096.4 L904.0,1093.7 L906.0,1090.9 L908.0,1088.1 L910.0,1085.1 L912.0,1082.2 L914.0,1079.1 L916.0,1076.0 L918.0,1072.8 L920.0,1069.5 L922.0,1066.2 L924.0,1062.8 L926.0,1059.3 L928.0,1055.8 L930.0,1052.2 L932.0,1048.6 L934.0,1044.9 L936.0,1041.2 L938.0,1037.4 L940.0,1033.5 L942.0,1029.6 L944.0,1025.6 L946.0,1021.6 L948.0,1017.6 L950.0,1013.4 L952.0,1009.3 L954.0,1005.1 L956.0,1000.8 L958.0,996.5 L960.0,992.2 L962.0,987.8 L964.0,983.4 L966.0,979.0 L968.0,974.5 L970.0,970.0 L972.0,965.4 L974.0,960.8 L976.0,956.2 L978.0,951.5 L980.0,946.8 L982.0,942.1 L984.0,937.3 L986.0,932.6 L988.0,927.8 L990.0,922.9 L992.0,918.1 L994.0,913.2 L996.0,908.3 L998.0,903.4 L1000.0,898.4 L1002.0,893.5 L1004.0,888.5 L1006.0,883.5 L1008.0,878.5 L1010.0,873.4 L1012.0,868.4 L1014.0,863.3 L1016.0,858.2 L1018.0,853.1 L1020.0,848.0 L1022.0,842.9 L1024.0,837.8 L1026.0,832.7 L1028.0,827.6 L1030.0,822.4 L1032.0,817.3 L1034.0,812.1 L1036.0,807.0 L1038.0,801.8 L1040.0,796.7 L1042.0,791.5 L1044.0,786.3 L1046.0,781.2 L1048.0,776.0 L1050.0,770.9 L1052.0,765.7 L1054.0,760.6 L1056.0,755.4 L1058.0,750.3 L1060.0,745.1 L1062.0,740.0 L1064.0,734.9 L1066.0,729.8 L1068.0,724.7 L1070.0,719.6 L1072.0,714.5 L1074.0,709.4 L1076.0,704.4 L1078.0,699.3 L1080.0,694.3 L1082.0,689.3 L1084.0,684.3 L1086.0,679.3 L1088.0,674.4 L1090.0,669.4 L1092.0,664.5 L1094.0,659.6 L1096.0,654.7 L1098.0,649.8 L1100.0,645.0 L1102.0,640.1 L1104.0,635.3 L1106.0,630.6 L1108.0,625.8 L1110.0,621.1 L1112.0,616.4 L1114.0,611.7 L1116.0,607.0 L1118.0,602.4 L1120.0,597.8 L1122.0,593.2 L1124.0,588.7 L1126.0,584.2 L1128.0,579.7 L1130.0,575.2 L1132.0,570.8 L1134.0,566.4 L1136.0,562.0 L1138.0,557.7 L1140.0,553.4 L1142.0,549.1 L1144.0,544.9 L1146.0,540.7 L1148.0,536.6 L1150.0,532.4 L1152.0,528.4 L1154.0,524.3 L1156.0,520.3 L1158.0,516.3 L1160.0,512.4 L1162.0,508.5 L1164.0,504.7 L1166.0,500.8 L1168.0,497.1 L1170.0,493.3 L1172.0,489.6 L1174.0,486.0 L1176.0,482.4 L1178.0,478.8 L1180.0,475.3 L1182.0,471.8 L1184.0,468.4 L1186.0,465.0 L1188.0,461.6 L1190.0,458.3 L1192.0,455.1 L1194.0,451.9 L1196.0,448.7 L1198.0,445.6 L1200.0,442.5 L1202.0,439.5 L1204.0,436.5 L1206.0,433.6 L1208.0,430.7 L1210.0,427.9 L1212.0,425.1 L1214.0,422.4 L1216.0,419.7 L1218.0,417.1 L1220.0,414.5 L1222.0,411.9 L1224.0,409.5 L1226.0,407.0 L1228.0,404.7 L1230.0,402.3 L1232.0,400.1 L1234.0,397.8 L1236.0,395.7 L1238.0,393.5 L1240.0,391.5 L1242.0,389.5 L1244.0,387.5 L1246.0,385.6 L1248.0,383.8 L1250.0,382.0 L1252.0,380.2 L1254.0,378.5 L1256.0,376.9 L1258.0,375.3 L1260.0,373.8 L1262.0,372.4 L1264.0,370.9 L1266.0,369.6 L1268.0,368.3 L1270.0,367.1 L1272.0,365.9 L1274.0,364.7 L1276.0,363.7 L1278.0,362.7 L1280.0,361.7 L1282.0,360.8 L1284.0,360.0 L1286.0,359.2 L1288.0,358.4 L1290.0,357.8 L1292.0,357.2 L1294.0,356.6 L1296.0,356.1 L1298.0,355.7 L1300.0,355.3 L1302.0,355.0 L1304.0,354.7 L1306.0,354.5 L1308.0,354.3 L1310.0,354.2 L1312.0,354.2 L1314.0,354.3 L1316.0,354.4 L1318.0,354.6 L1320.0,354.8 L1322.0,355.2 L1324.0,355.6 L1326.0,356.0 L1328.0,356.6 L1330.0,357.2 L1332.0,357.8 L1334.0,358.6 L1336.0,359.3 L1338.0,360.2 L1340.0,361.1 L1342.0,362.0 L1344.0,363.0 L1346.0,364.1 L1348.0,365.3 L1350.0,366.4 L1352.0,367.7 L1354.0,369.0 L1356.0,370.4 L1358.0,371.8 L1360.0,373.2 L1362.0,374.8 L1364.0,376.3 L1366.0,378.0 L1368.0,379.6 L1370.0,381.4 L1372.0,383.2 L1374.0,385.0 L1376.0,386.9 L1378.0,388.9 L1380.0,390.9 L1382.0,392.9 L1384.0,395.0 L1386.0,397.1 L1388.0,399.3 L1390.0,401.6 L1392.0,403.9 L1394.0,406.2 L1396.0,408.6 L1398.0,411.1 L1400.0,413.6 L1402.0,416.1 L1404.0,418.7 L1406.0,421.3 L1408.0,424.0 L1410.0,426.7 L1412.0,429.5 L1414.0,432.3 L1416.0,435.1 L1418.0,438.0 L1420.0,441.0 L1422.0,444.0 L1424.0,447.0 L1426.0,450.1 L1428.0,453.2 L1430.0,456.4 L1432.0,459.6 L1434.0,462.8 L1436.0,466.1 L1438.0,469.4 L1440.0,472.8 L1442.0,476.2 L1444.0,479.6 L1446.0,483.1 L1448.0,486.6 L1450.0,490.2 L1452.0,493.8 L1454.0,497.4 L1456.0,501.1 L1458.0,504.8 L1460.0,508.5 L1462.0,512.3 L1464.0,516.1 L1466.0,520.0 L1468.0,523.9 L1470.0,527.8 L1472.0,531.7 L1474.0,535.7 L1476.0,539.7 L1478.0,543.8 L1480.0,547.9 L1482.0,552.0 L1484.0,556.1 L1486.0,560.3 L1488.0,564.5 L1490.0,568.7 L1492.0,573.0 L1494.0,577.3 L1496.0,581.6 L1498.0,585.9 L1500.0,590.3 L1502.0,594.7 L1504.0,599.1 L1506.0,603.6 L1508.0,608.1 L1510.0,612.6 L1512.0,617.1 L1514.0,621.6 L1516.0,626.2 L1518.0,630.8 L1520.0,635.4 L1522.0,640.0 L1524.0,644.7 L1526.0,649.4 L1528.0,654.1 L1530.0,658.8 L1532.0,663.5 L1534.0,668.2 L1536.0,673.0 L1538.0,677.8 L1540.0,682.6 L1542.0,687.4 L1544.0,692.2 L1546.0,697.1 L1548.0,701.9 L1550.0,706.8 L1552.0,711.7 L1554.0,716.6 L1556.0,721.5 L1558.0,726.4 L1560.0,731.3 L1562.0,736.3 L1564.0,741.2 L1566.0,746.2 L1568.0,751.1 L1570.0,756.1 L1572.0,761.1 L1574.0,766.1 L1576.0,771.0 L1578.0,776.0 L1580.0,781.0 L1582.0,786.0 L1584.0,791.0 L1586.0,796.0 L1588.0,801.0 L1590.0,806.0 L1592.0,811.0 L1594.0,816.0 L1596.0,821.0 L1598.0,826.0 L1600.0,831.0 L1602.0,835.9 L1604.0,840.9 L1606.0,845.9 L1608.0,850.9 L1610.0,855.8 L1612.0,860.8 L1614.0,865.7 L1616.0,870.6 L1618.0,875.5 L1620.0,880.4 L1622.0,885.3 L1624.0,890.2 L1626.0,895.1 L1628.0,899.9 L1630.0,904.8 L1632.0,909.6 L1634.0,914.4 L1636.0,919.2 L1638.0,923.9 L1640.0,928.7 L1642.0,933.4 L1644.0,938.1 L1646.0,942.8 L1648.0,947.4 L1650.0,952.0 L1652.0,956.6 L1654.0,961.2 L1656.0,965.8 L1658.0,970.3 L1660.0,974.8 L1662.0,979.2 L1664.0,983.6 L1666.0,988.0 L1668.0,992.4 L1670.0,996.7 L1672.0,1001.0 L1674.0,1005.2 L1676.0,1009.4 L1678.0,1013.6 L1680.0,1017.7 L1682.0,1021.8 L1684.0,1025.8 L1686.0,1029.8 L1688.0,1033.8 L1690.0,1037.6 L1692.0,1041.5 L1694.0,1045.3 L1696.0,1049.0 L1698.0,1052.7 L1700.0,1056.4 L1702.0,1060.0 L1704.0,1063.5 L1706.0,1067.0 L1708.0,1070.4 L1710.0,1073.7 L1712.0,1077.0 L1714.0,1080.2 L1716.0,1083.4 L1718.0,1086.5 L1720.0,1089.5 L1722.0,1092.4 L1724.0,1095.3 L1726.0,1098.1 L1728.0,1100.8 L1730.0,1103.4 L1732.0,1106.0 L1734.0,1108.5 L1736.0,1110.8 L1738.0,1113.1 L1740.0,1115.3 L1742.0,1117.4 L1744.0,1119.4 L1746.0,1121.3 L1748.0,1123.2 L1750.0,1124.9 L1752.0,1126.4 L1754.0,1128.0 L1756.0,1129.5 L1758.0,1131.0 L1760.0,1132.5 L1762.0,1133.9 L1764.0,1135.3 L1766.0,1136.5 L1768.0,1137.7 L1770.0,1138.8 L1772.0,1139.6 L1774.0,1140.5 L1776.0,1141.3 L1778.0,1142.1 L1780.0,1143.0 L1782.0,1143.8 L1784.0,1144.5 L1786.0,1145.3 L1788.0,1145.9 L1790.0,1146.5 L1792.0,1146.9 L1794.0,1147.3 L1796.0,1147.6 L1798.0,1147.7 L1800.0,1147.8 L1802.0,1147.8 L1804.0,1147.7 L1806.0,1147.5 L1808.0,1147.3 L1810.0,1147.0 L1812.0,1146.6 L1814.0,1146.2 L1816.0,1145.8 L1818.0,1145.3 L1820.0,1144.7 L1822.0,1144.2 L1824.0,1143.6 L1826.0,1142.9 L1828.0,1142.3 L1830.0,1141.6 L1832.0,1141.0 L1834.0,1140.3 L1836.0,1139.7 L1838.0,1139.0 L1840.0,1138.4 L1842.0,1137.9 L1844.0,1137.3 L1846.0,1136.8 L1848.0,1136.4 L1850.0,1136.0 L1852.0,1135.6 L1854.0,1135.3 L1856.0,1135.1"/>
</g>
<g stroke="#000" fill="none">
<line x1="545.0" y1="1704.6" x2="545.0" y2="2856" stroke-width="9.5"/>
<line x1="513" y1="1708.6" x2="545.0" y2="1708.6" stroke-width="8"/>
<line x1="513" y1="1988.2" x2="545.0" y2="1988.2" stroke-width="8"/>
<line x1="513" y1="2267.8" x2="545.0" y2="2267.8" stroke-width="8"/>
<line x1="513" y1="2547.4" x2="545.0" y2="2547.4" stroke-width="8"/>
<line x1="513" y1="2827.0" x2="2277.9" y2="2827.0" stroke-width="8.5"/>
<line x1="543.5" y1="2827.0" x2="543.5" y2="2856" stroke-width="8"/>
<line x1="1120.3" y1="2827.0" x2="1120.3" y2="2856" stroke-width="8"/>
<line x1="1697.1" y1="2827.0" x2="1697.1" y2="2856" stroke-width="8"/>
<line x1="2273.9" y1="2827.0" x2="2273.9" y2="2856" stroke-width="8"/>
</g>
<text transform="translate(80.47,222.50) scale(0.9640,1)" font-size="215.22">A</text>
<text transform="translate(273.17,176.83) scale(1.0175,1)" font-size="67.22">1600</text>
<text transform="translate(273.17,420.58) scale(1.0175,1)" font-size="67.22">1200</text>
<text transform="translate(306.88,667.61) scale(1.0008,1)" font-size="69.48">800</text>
<text transform="translate(308.05,911.02) scale(1.0048,1)" font-size="68.49">400</text>
<text transform="translate(369.46,1156.83) scale(1.1314,1)" font-size="67.22">0</text>
<text transform="translate(411.49,1381.79) scale(0.9931,1)" font-size="70.75">0.85</text>
<text transform="translate(848.99,1381.79) scale(0.9931,1)" font-size="70.75">0.95</text>
<text transform="translate(1288.07,1381.79) scale(0.9896,1)" font-size="70.75">1.05</text>
<text transform="translate(1725.57,1381.79) scale(0.9896,1)" font-size="70.75">1.15</text>
<text transform="translate(2164.36,1381.79) scale(0.9801,1)" font-size="70.75">1.25</text>
<text transform="translate(1067.20,1499.64) scale(0.9107,1)" font-size="85.61">POTENTIAL</text>
<text transform="translate(1532.31,1498.43) scale(0.9934,1)" font-size="88.39">(V)</text>
<text transform="translate(209.90,1000.19) rotate(-90) scale(0.9321,1)" font-size="85.51">CURRENT</text>
<text transform="translate(209.79,587.37) rotate(-90) scale(0.9313,1)" font-size="89.57">(nA)</text>
<text transform="translate(1315.36,317.62) scale(0.9790,1)" font-size="77.56">e</text>
<text transform="translate(1308.74,520.28) scale(1.1322,1)" font-size="71.95">d</text>
<text transform="translate(1309.96,691.27) scale(1.0390,1)" font-size="73.17">c</text>
<text transform="translate(1306.10,819.26) scale(1.0781,1)" font-size="73.71">b</text>
<text transform="translate(1316.51,1102.09) scale(0.8584,1)" font-size="81.04">a</text>
<text transform="translate(95.48,1807.50) scale(0.8436,1)" font-size="213.77">B</text>
<text transform="translate(268.35,1732.95) scale(1.0705,1)" font-size="79.60">1600</text>
<text transform="translate(268.35,2014.72) scale(1.0948,1)" font-size="77.83">1200</text>
<text transform="translate(312.90,2291.72) scale(1.1160,1)" font-size="77.83">800</text>
<text transform="translate(313.56,2574.24) scale(1.1278,1)" font-size="76.42">400</text>
<text transform="translate(407.22,2851.72) scale(1.2130,1)" font-size="77.83">0</text>
<text transform="translate(517.80,2971.31) scale(1.1418,1)" font-size="78.82">0</text>
<text transform="translate(1071.95,2971.30) scale(1.0978,1)" font-size="79.81">10</text>
<text transform="translate(1651.68,2971.30) scale(1.0974,1)" font-size="79.81">20</text>
<text transform="translate(2226.88,2971.30) scale(1.0858,1)" font-size="79.81">30</text>
<text transform="translate(503.61,3099.00) scale(1.0322,1)" font-size="78.26">miRNA-34a</text>
<text transform="translate(961.78,3099.00) scale(0.9225,1)" font-size="78.26">TARGET</text>
<text transform="translate(1285.71,3099.00) scale(0.9708,1)" font-size="78.26">CONCENTRATION</text>
<text transform="translate(1984.37,3096.73) scale(1.0980,1)" font-size="79.79">(µg/mL)</text>
<text transform="translate(201.50,2669.37) rotate(-90) scale(0.8949,1)" font-size="94.06">CURRENT</text>
<text transform="translate(200.01,2245.59) rotate(-90) scale(0.9016,1)" font-size="99.64">(nA)</text>
<text transform="translate(723.70,1989.45) scale(1.0035,1)" font-size="80.09">y</text>
<text transform="translate(790.85,1986.15) scale(1.2195,1)" font-size="64.51">=</text>
<text transform="translate(858.15,1987.72) scale(1.0917,1)" font-size="77.83">53.98x</text>
<text transform="translate(1135.04,1988.00) scale(1.2526,1)" font-size="75.00">-</text>
<text transform="translate(1188.83,1987.72) scale(1.1106,1)" font-size="77.83">102.57</text>
<text transform="translate(918.80,2099.60) scale(0.9855,1)" font-size="77.68">R²</text>
<text transform="translate(1023.82,2097.07) scale(1.1048,1)" font-size="67.43">=</text>
<text transform="translate(1087.47,2099.93) scale(1.1399,1)" font-size="77.41">0.99</text>
<g stroke="#000" stroke-width="10" fill="none">
<line x1="1119.3" y1="2464.0" x2="1119.3" y2="2567.5"/>
<line x1="1409.0" y1="2289.0" x2="1409.0" y2="2416.5"/>
<line x1="1698.0" y1="2070.5" x2="1698.0" y2="2185.5"/>
<line x1="1985.0" y1="1883.0" x2="1985.0" y2="2037.5"/>
</g><g stroke="#000" stroke-width="7.5" fill="none">
<line x1="1106.3" y1="2464.0" x2="1132.3" y2="2464.0"/>
<line x1="1106.3" y1="2567.5" x2="1132.3" y2="2567.5"/>
<line x1="1396.0" y1="2289.0" x2="1422.0" y2="2289.0"/>
<line x1="1396.0" y1="2416.5" x2="1422.0" y2="2416.5"/>
<line x1="1685.0" y1="2070.5" x2="1711.0" y2="2070.5"/>
<line x1="1685.0" y1="2185.5" x2="1711.0" y2="2185.5"/>
<line x1="1972.0" y1="1883.0" x2="1998.0" y2="1883.0"/>
<line x1="1972.0" y1="2037.5" x2="1998.0" y2="2037.5"/>
</g>
<g fill="#4f7dba">
<path d="M1102.3,2511.5 L1119.3,2494.5 L1136.3,2511.5 L1119.3,2528.5 Z"/>
<path d="M1392.0,2354.5 L1409.0,2337.5 L1426.0,2354.5 L1409.0,2371.5 Z"/>
<path d="M1681.0,2127.5 L1698.0,2110.5 L1715.0,2127.5 L1698.0,2144.5 Z"/>
<path d="M1968.0,1962.0 L1985.0,1945.0 L2002.0,1962.0 L1985.0,1979.0 Z"/>
</g>
<line x1="1117" y1="2521.5" x2="1983" y2="1961.5" stroke="#000" stroke-width="12"/>
</svg></body></html>
